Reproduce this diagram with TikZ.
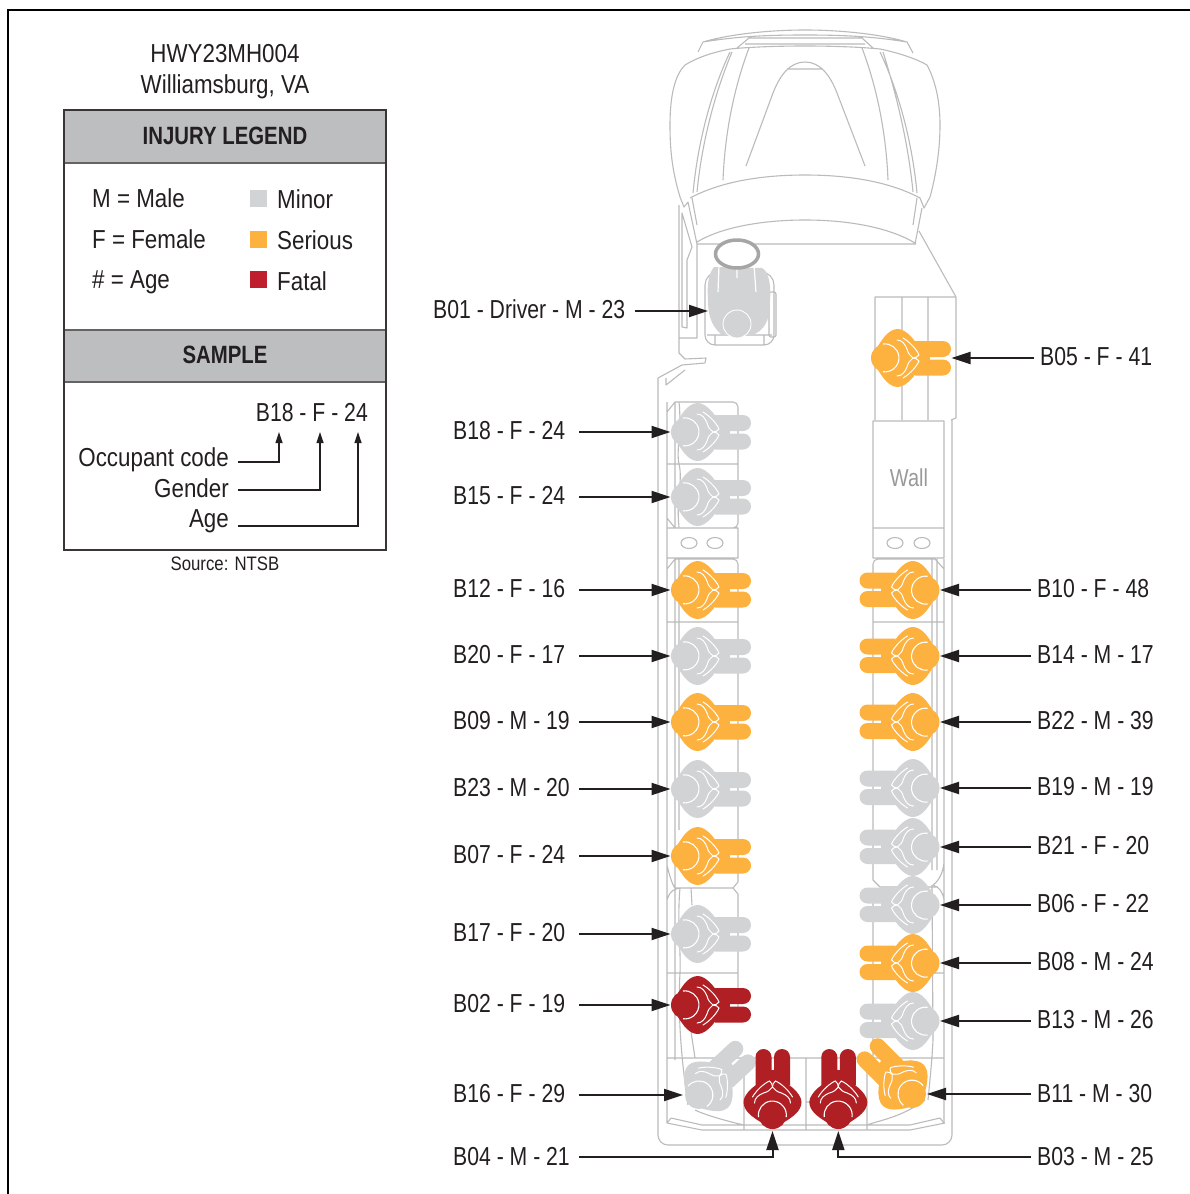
\documentclass[tikz,border=0pt]{standalone}
\usepackage{fontspec}
\setmainfont[FakeStretch=0.815]{Liberation Sans}
\newfontfamily\legfont[FakeStretch=0.86]{Liberation Sans}
\usetikzlibrary{arrows.meta,calc}
\definecolor{pgry}{HTML}{D1D3D4}
\definecolor{porg}{HTML}{FDB13F}
\definecolor{pred}{HTML}{B01F24}
\definecolor{lred}{HTML}{BE1E2D}
\definecolor{hdr}{HTML}{BCBEC0}
\definecolor{bus}{HTML}{BBBBBB}
\definecolor{ink}{HTML}{231F20}
\tikzset{
 x=1pt,y=-1pt,
 busline/.style={draw=bus,line width=1.1pt,line join=round},
 txt/.style={font=\fontsize{26}{28}\selectfont,text=ink,inner sep=0pt},
 leg/.style={font=\legfont\fontsize{26}{28}\selectfont,text=ink,inner sep=0pt},
 head/.style={font=\fontsize{25}{28}\selectfont\bfseries,text=ink,inner sep=0pt},
 llab/.style={txt,anchor=west},
 rlab/.style={txt,anchor=west,inner xsep=6pt},
 arr/.style={draw=ink,line width=2pt,-{Triangle[length=19pt,width=12pt]}},
 smallarr/.style={draw=ink,line width=1.2pt,-{Triangle[length=11pt,width=7pt]}},
 legbox/.style={draw=ink!90,line width=2.6pt},
 pics/person/.style={code={
  \fill[#1] (-7,-12) .. controls (-2,-20) and (4,-29) .. (13,-29)
     .. controls (22,-29) and (34,-14) .. (36,-4) -- (36,4)
     .. controls (34,14) and (22,29) .. (13,29)
     .. controls (4,29) and (-2,20) .. (-7,12) -- cycle;
  \fill[#1] (30,-17) -- (58,-17) arc[start angle=-90,end angle=90,radius=8] -- (30,-1) -- cycle;
  \fill[#1] (30,1.5) -- (58,1.5) arc[start angle=-90,end angle=90,radius=8] -- (30,17.5) -- cycle;
  \fill[#1] (30,-3) rectangle (45,3);
  \fill[#1] (0,0) circle[radius=14];
  \draw[white,line width=1.1pt] (-2,-14) arc[start angle=-98,end angle=98,radius=14];
  \draw[white,line width=1pt,line cap=round] (12,-18) .. controls (17,-18) and (20,-14) .. (22,-9) .. controls (23,-5) and (25,-2) .. (28,0);
  \draw[white,line width=1pt,line cap=round] (12,18) .. controls (17,18) and (20,14) .. (22,9) .. controls (23,5) and (25,2) .. (28,0);
  \draw[white,line width=1pt,line cap=round] (18,-20) .. controls (25,-16) and (32,-8) .. (34,-3) .. controls (33,-1) and (30,0) .. (28,0);
  \draw[white,line width=1pt,line cap=round] (18,20) .. controls (25,16) and (32,8) .. (34,3) .. controls (33,1) and (30,0) .. (28,0);
  \coordinate (-c) at (0,0);
  \coordinate (-h) at (-14.5,0);
  \coordinate (-f) at (66.5,0);
 }},
}
\begin{document}
\begin{tikzpicture}
\useasboundingbox (0,0) rectangle (1190,1194);
\fill[white] (0,0) rectangle (1190,1194);
\draw[black,line width=2pt] (8,1194) -- (8,9.5) -- (1190,9.5);
% ---------- titles and legend
\node[leg,anchor=base] (t1) at (225,62.5) {HWY23MH004};
\node[leg,anchor=base] (t2) at (225,93.5) {Williamsburg, VA};
\fill[hdr] (64,110) rectangle (386,163);
\fill[hdr] (64,330) rectangle (386,382);
\draw[draw=ink!70,line width=1.5pt] (64,163) -- (386,163) (64,330) -- (386,330) (64,382) -- (386,382);
\draw[legbox] (64,110) rectangle (386,550);
\node[head] (h1) at (225,136) {INJURY LEGEND};
\node[head] (h2) at (225,355) {SAMPLE};
\node[leg,anchor=base west] (m) at (92,207) {M = Male};
\node[leg,anchor=base west] (f) at (92,248) {F = Female};
\node[leg,anchor=base west] (a) at (92,288.5) {\# = Age};
\fill[pgry] (250,190) rectangle (267,207);
\fill[porg] (250,231) rectangle (267,248);
\fill[lred] (250,271) rectangle (267,288);
\node[leg,anchor=base west] (k1) at (277,208.5) {Minor};
\node[leg,anchor=base west] (k2) at (277,249.5) {Serious};
\node[leg,anchor=base west] (k3) at (277,290.5) {Fatal};
\node[txt,anchor=east] (s) at (368,413) {B18 - F - 24};
\node[leg,anchor=base east] (occ) at (229,466) {Occupant code};
\node[leg,anchor=base east] (gen) at (229,497) {Gender};
\node[leg,anchor=base east] (agl) at (229,527) {Age};
\coordinate (sa) at (279,432);
\coordinate (sb) at (320,432);
\coordinate (sc) at (358,432);
\draw[smallarr] ($(occ.base east)+(9,-4)$) -| (sa);
\draw[smallarr] ($(gen.base east)+(9,-7)$) -| (sb);
\draw[smallarr] ($(agl.base east)+(9,-1)$) -| (sc);
\node[anchor=base,font=\legfont\fontsize{19.5}{21}\selectfont,text=ink,inner sep=0pt] (src) at (225,570) {Source: NTSB};
% ---------- vehicle: cab
\path[busline]
 (680,197) .. controls (672,170) and (670,150) .. (670,125) .. controls (670,95) and (675,75) .. (685,65)
 (685,65) .. controls (700,56) and (715,52) .. (730,49) .. controls (770,45) and (840,45) .. (880,49) .. controls (895,52) and (915,58) .. (927,65)
 (927,65) .. controls (935,80) and (940,100) .. (940,125) .. controls (940,150) and (936,175) .. (930,197)
 (680,197) -- (684,207) -- (688,202) (930,197) -- (924,208) -- (920,198)
 (698,52) -- (703,42) .. controls (730,34) and (770,30) .. (805,30) .. controls (840,30) and (880,34) .. (907,42) -- (913,53)
 (703,42) .. controls (740,36) and (770,35) .. (805,35) .. controls (840,35) and (870,36) .. (907,42)
 (737,48) -- (749,38) -- (862,38) -- (873,48)
 (745,44) -- (865,44)
 (730,52) .. controls (712,90) and (698,140) .. (693,193)
 (732,52) .. controls (716,90) and (702,140) .. (697,192)
 (880,52) .. controls (898,90) and (912,140) .. (917,193)
 (883,52) .. controls (895,90) and (908,140) .. (913,192)
 (749,48) .. controls (735,85) and (725,130) .. (723,180)
 (862,48) .. controls (876,85) and (886,130) .. (888,180)
 (746,166) -- (773,93) .. controls (780,75) and (790,62) .. (805,62) .. controls (820,62) and (830,75) .. (837,93) -- (865,166)
 (787,69) -- (823,69)
 (690,198) .. controls (720,182) and (760,175) .. (805,175) .. controls (850,175) and (890,182) .. (920,198)
 (697,242) .. controls (720,228) and (760,220) .. (805,220) .. controls (850,220) and (890,228) .. (915,243)
 (697,244) -- (916,244)
 (688,202) -- (697,244) (692,198) -- (697,225)
 (922,208) -- (915,244) (917,198) -- (913,225)
 (919,231) -- (956,297) -- (875,297) -- (875,420)
 (902,297) -- (902,420) (928,297) -- (928,420) (956,297) -- (956,418) -- (951,420);
% ---------- cab side and door
\path[busline]
 (679,205) -- (679,353) -- (685,359) -- (706,358) -- (705,363) -- (682,365) -- (658,378)
 (697,244) -- (697,338) -- (679,338)
 (682,213) -- (692,247) -- (687,260) -- (687,328) -- (682,327) -- cycle
 (666,378) -- (666,385) -- (685,370);
% ---------- vehicle: body
\path[busline]
 (658,378) -- (658,1135) arc[start angle=-180,end angle=-270,radius=10] -- (942,1145) arc[start angle=-270,end angle=-360,radius=10] -- (952,420)
 (667,402) -- (667,1123)
 (675,402) -- (675,528) (675,559) -- (675,1060)
 (679,402) .. controls (682,430) and (676,450) .. (679,464) .. controls (683,480) and (676,500) .. (679,527)
 (679,559) -- (679,830)
 (667,412) -- (675,402) -- (733,402) arc[start angle=-90,end angle=0,radius=5] -- (738,523) arc[start angle=0,end angle=90,radius=5] -- (675,528) -- (667,518)
 (667,464) -- (738,464)
 (667,528) rectangle (738,558)
 (667,569) -- (675,559) -- (733,559) arc[start angle=-90,end angle=0,radius=5] -- (738,882) -- (733,888) -- (675,888) .. controls (672,885) and (668,870) .. (667,865)
 (667,622) -- (738,622)
 (667,900) .. controls (670,890) and (675,889) .. (680,888)
 (733,888) -- (738,894) -- (738,1013)
 (691,888) -- (692,905) (667,973) -- (738,973)
 (680,888) .. controls (677,920) and (681,950) .. (680,973)
 (680,973) .. controls (678,1010) and (680,1050) .. (688,1105)
 (690,1025) -- (695,1058)
 (667,1058) -- (944,1058)
 (744,1058) -- (744,1130) (806,1058) -- (806,1130) (867,1058) -- (867,1130)
 (667,1123) -- (702,1130) -- (910,1130) -- (945,1123)
 (671,1118) -- (702,1125) -- (910,1125) -- (940,1118) -- (944,1123)
 (667,1123) -- (671,1118)
 (695,1110) .. controls (705,1115) and (730,1122) .. (744,1125)
 (867,1125) .. controls (880,1120) and (900,1118) .. (925,1100)
 (806,1102) -- (867,1102);
\path[busline]
 (873,421) rectangle (944,558)
 (873,528) -- (944,528)
 (944,559) -- (944,1123)
 (873,564) arc[start angle=-180,end angle=-90,radius=5] -- (935,559) -- (944,569)
 (873,564) -- (873,880) -- (880,887) -- (938,887)
 (873,622) -- (944,622)
 (873,894) -- (873,1058)
 (873,973) -- (944,973)
 (932,559) -- (932,870) (937,559) -- (937,870)
 (921,880) .. controls (924,900) and (924,910) .. (922,920)
 (933,885) .. controls (940,880) and (944,870) .. (944,860)
 (933,885) .. controls (939,887) and (943,892) .. (944,900)
 (932,885) -- (933,1040) .. controls (932,1060) and (930,1080) .. (928,1100);
% ---------- seat-back ovals
\foreach \cx/\nm in {689/o1,715/o2,895/o3,922/o4}
 \path[busline] (\cx,543) circle[x radius=8,y radius=5.5];
\node[font=\fontsize{24.5}{26}\selectfont,text=black!40,inner sep=0pt] (wall) at (909,478) {Wall};
% ---------- driver
\path[busline] (705,285) arc[start angle=-180,end angle=-90,radius=13] -- (761,272) arc[start angle=-90,end angle=0,radius=13] -- (774,335) arc[start angle=0,end angle=90,radius=10] -- (715,345) arc[start angle=90,end angle=180,radius=10] -- cycle
 (707,335) -- (772,335) (715,335) -- (715,345) (764,335) -- (764,345);
\path[busline] (769,294) arc[start angle=-180,end angle=-90,radius=2] -- (774,292) arc[start angle=-90,end angle=0,radius=2] -- (776,335) arc[start angle=0,end angle=90,radius=2] -- (771,337) arc[start angle=90,end angle=180,radius=2] -- cycle;
\fill[pgry] (714,267) -- (762,268) .. controls (770,272) and (771,290) .. (770,300) .. controls (770,315) and (768,327) .. (755,334) -- (721,334) .. controls (710,325) and (708,312) .. (708,300) .. controls (707,285) and (708,275) .. (714,267) -- cycle;
\draw[white,line width=1.2pt] (719,265) -- (718,292) (737,268) -- (737,278) (754,265) -- (756,292);
\draw[draw=white,fill=pgry,line width=.9pt] (737,324) circle[radius=14];
\draw[draw=black!35,fill=white,line width=3.5pt] (737,254) circle[x radius=21.5,y radius=14];
\coordinate (drv) at (708,311);
% ---------- occupants
\foreach \n/\c/\y in {18/pgry/432,15/pgry/497,12/porg/590,20/pgry/656,09/porg/722,23/pgry/789,07/porg/856,17/pgry/934,02/pred/1005}
 \pic (p\n) at (685,\y) {person=\c};
\foreach \n/\c/\y in {10/porg/590,14/porg/656,22/porg/722,19/pgry/788,21/pgry/847,06/pgry/905,08/porg/963,13/pgry/1021}
 \pic[rotate=180] (p\n) at (925.5,\y) {person=\c};
\pic (p05) at (885,358) {person=porg};
\pic[rotate=43] (p16) at (699,1095) {person=pgry};
\pic[rotate=135] (p11) at (912,1094) {person=porg};
\pic[rotate=90] (p04) at (772.5,1115) {person=pred};
\pic[rotate=90] (p03) at (838.3,1115) {person=pred};
% ---------- labels and arrows, left
\foreach \n/\s/\y in {18/B18 - F - 24/432,15/B15 - F - 24/497,12/B12 - F - 16/590,20/B20 - F - 17/656,09/B09 - M - 19/722,23/B23 - M - 20/789,07/B07 - F - 24/856,17/B17 - F - 20/934,02/B02 - F - 19/1005} {
 \node[llab] (l\n) at (453,\y-1) {\makebox[126pt][l]{\s}};
 \draw[arr] (l\n.east |- p\n-h) -- (p\n-h);
}
\node[llab] (l16) at (453,1094) {\makebox[126pt][l]{B16 - F - 29}};
\draw[arr] (l16.east |- p16-c) -- ($(p16-c)+(-16,0)$);
\node[llab] (l01) at (433,309) {\makebox[202pt][l]{B01 - Driver - M - 23}};
\draw[arr] (l01.east |- drv) -- (drv);
\node[llab] (l04) at (453,1157) {\makebox[126pt][l]{B04 - M - 21}};
\draw[arr] (l04.east) -| ($(p04-h)+(0,1.5)$);
% ---------- labels and arrows, right
\foreach \n/\s/\y in {10/B10 - F - 48/590,14/B14 - M - 17/656,22/B22 - M - 39/722,19/B19 - M - 19/788,21/B21 - F - 20/847,06/B06 - F - 22/905,08/B08 - M - 24/963,13/B13 - M - 26/1021} {
 \node[rlab] (l\n) at (1031,\y-1) {\s};
 \draw[arr] (l\n.west |- p\n-h) -- (p\n-h);
}
\node[rlab] (l11) at (1031,1094) {B11 - M - 30};
\draw[arr] (l11.west |- p11-c) -- ($(p11-c)+(15,0)$);
\node[rlab] (l05) at (1034,357) {B05 - F - 41};
\draw[arr] (l05.west |- p05-f) -- (p05-f);
\node[rlab] (l03) at (1031,1157) {B03 - M - 25};
\draw[arr] (l03.west) -| ($(p03-h)+(0,1.5)$);
\end{tikzpicture}
\end{document}
